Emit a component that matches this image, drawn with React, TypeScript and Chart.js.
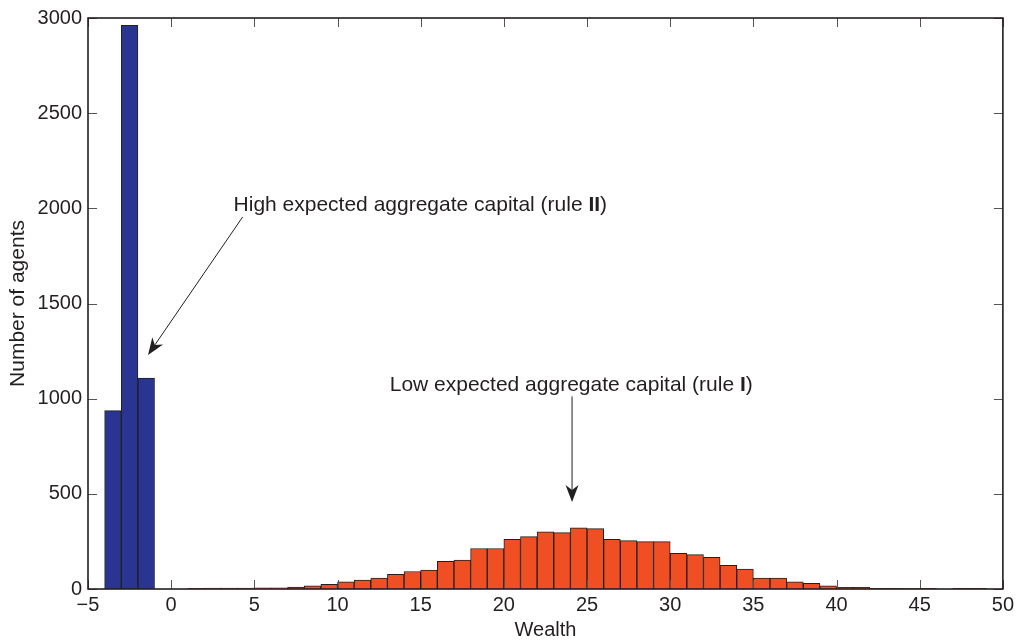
import React, { useEffect, useRef } from 'react';
import { Chart, registerables } from 'chart.js';

Chart.register(...registerables);

// Histogram of wealth: bin centres (bin width = 1) and counts
const blueBinCenters = [-3.5, -2.5, -1.5];
const blueCounts = [937, 2961, 1108];

const orangeBinCenters = [
  1.5, 2.5, 3.5, 4.5, 5.5, 6.5, 7.5, 8.5, 9.5, 10.5, 11.5, 12.5, 13.5, 14.5, 15.5, 16.5,
  17.5, 18.5, 19.5, 20.5, 21.5, 22.5, 23.5, 24.5, 25.5, 26.5, 27.5, 28.5, 29.5, 30.5, 31.5, 32.5,
  33.5, 34.5, 35.5, 36.5, 37.5, 38.5, 39.5, 40.5, 41.5, 42.5, 43.5, 44.5, 45.5, 46.5, 47.5, 48.5,
];
const orangeCounts = [
  4, 5, 5, 5, 6, 6, 10, 16, 24, 38, 47, 57, 77, 92, 99, 146,
  152, 213, 213, 261, 275, 301, 296, 322, 317, 261, 254, 249, 249, 188, 181, 167,
  125, 105, 57, 57, 38, 30, 17, 9, 9, 3, 3, 2, 3, 0, 3, 3,
];

const xTickValues = [-5, 0, 5, 10, 15, 20, 25, 30, 35, 40, 45, 50];
const yTickValues = [0, 500, 1000, 1500, 2000, 2500, 3000];

const xTitle = 'Wealth';
const yTitle = 'Number of agents';

const highLabelParts = [
  { text: 'High expected aggregate capital (rule ', bold: false },
  { text: 'II', bold: true },
  { text: ')', bold: false },
];
const lowLabelParts = [
  { text: 'Low expected aggregate capital (rule ', bold: false },
  { text: 'I', bold: true },
  { text: ')', bold: false },
];

// annotation anchors in data coordinates
const highLabelAt = { x: 3.75, y: 1985 };
const highArrowFrom = { x: 4.3, y: 1955 };
const highArrowTo = { x: -1.39, y: 1230 };
const lowLabelAt = { x: 24.05, y: 1041 };
const lowArrowFrom = { x: 24.1, y: 1012 };
const lowArrowTo = { x: 24.1, y: 457 };

const FONT = '"Liberation Sans", Arial, Helvetica, sans-serif';
const INK = '#231f20';
const ANNOT_SIZE = 21;

function drawArrow(ctx: CanvasRenderingContext2D, x1: number, y1: number, x2: number, y2: number) {
  const ang = Math.atan2(y2 - y1, x2 - x1);
  const L = 17;
  const W = 6.5;
  const notch = 5;
  ctx.beginPath();
  ctx.moveTo(x1, y1);
  ctx.lineTo(x2 - Math.cos(ang) * (L - notch), y2 - Math.sin(ang) * (L - notch));
  ctx.stroke();
  ctx.save();
  ctx.translate(x2, y2);
  ctx.rotate(ang);
  ctx.beginPath();
  ctx.moveTo(0, 0);
  ctx.lineTo(-L, W);
  ctx.lineTo(-L + notch, 0);
  ctx.lineTo(-L, -W);
  ctx.closePath();
  ctx.fill();
  ctx.restore();
}

function drawMixed(
  ctx: CanvasRenderingContext2D,
  parts: { text: string; bold: boolean }[],
  x: number,
  y: number,
  align: 'left' | 'center'
) {
  const widths = parts.map((p) => {
    ctx.font = `${p.bold ? 'bold ' : ''}${ANNOT_SIZE}px ${FONT}`;
    return ctx.measureText(p.text).width;
  });
  const total = widths.reduce((a, b) => a + b, 0);
  let cx = align === 'center' ? x - total / 2 : x;
  ctx.textAlign = 'left';
  ctx.textBaseline = 'alphabetic';
  parts.forEach((p, i) => {
    ctx.font = `${p.bold ? 'bold ' : ''}${ANNOT_SIZE}px ${FONT}`;
    ctx.fillText(p.text, cx, y);
    cx += widths[i];
  });
}

const framePlugin = {
  id: 'matlabFrame',
  afterDraw(chart: any) {
    const { ctx, chartArea: a } = chart;
    const xs = chart.scales.x;
    const ys = chart.scales.y;
    ctx.save();
    // ticks (inward, mirrored)
    ctx.strokeStyle = '#555';
    ctx.lineWidth = 1;
    const tl = 9;
    ctx.beginPath();
    xTickValues.forEach((v) => {
      const px = Math.round(xs.getPixelForValue(v)) + 0.5;
      ctx.moveTo(px, a.bottom);
      ctx.lineTo(px, a.bottom - tl);
      ctx.moveTo(px, a.top);
      ctx.lineTo(px, a.top + tl);
    });
    yTickValues.forEach((v) => {
      const py = Math.round(ys.getPixelForValue(v)) + 0.5;
      ctx.moveTo(a.left, py);
      ctx.lineTo(a.left + tl, py);
      ctx.moveTo(a.right, py);
      ctx.lineTo(a.right - tl, py);
    });
    ctx.stroke();
    // box
    ctx.strokeStyle = INK;
    ctx.lineWidth = 1.6;
    ctx.strokeRect(a.left, a.top, a.right - a.left, a.bottom - a.top);

    // annotations
    ctx.fillStyle = INK;
    ctx.strokeStyle = INK;
    ctx.lineWidth = 1;
    drawMixed(ctx, highLabelParts, xs.getPixelForValue(highLabelAt.x), ys.getPixelForValue(highLabelAt.y), 'left');
    drawMixed(ctx, lowLabelParts, xs.getPixelForValue(lowLabelAt.x), ys.getPixelForValue(lowLabelAt.y), 'center');
    drawArrow(
      ctx,
      xs.getPixelForValue(highArrowFrom.x),
      ys.getPixelForValue(highArrowFrom.y),
      xs.getPixelForValue(highArrowTo.x),
      ys.getPixelForValue(highArrowTo.y)
    );
    drawArrow(
      ctx,
      xs.getPixelForValue(lowArrowFrom.x),
      ys.getPixelForValue(lowArrowFrom.y),
      xs.getPixelForValue(lowArrowTo.x),
      ys.getPixelForValue(lowArrowTo.y)
    );
    ctx.restore();
  },
};

export default function App() {
  const canvasRef = useRef<HTMLCanvasElement | null>(null);

  useEffect(() => {
    if (!canvasRef.current) return;
    const chart = new Chart(canvasRef.current, {
      type: 'bar',
      data: {
        datasets: [
          {
            label: 'High',
            data: blueBinCenters.map((x, i) => ({ x, y: blueCounts[i] })),
            backgroundColor: '#2a3592',
            borderColor: INK,
            borderWidth: 1,
            barPercentage: 1,
            categoryPercentage: 1,
            grouped: false,
          },
          {
            label: 'Low',
            data: orangeBinCenters.map((x, i) => ({ x, y: orangeCounts[i] })),
            backgroundColor: '#f04f23',
            borderColor: INK,
            borderWidth: 1,
            barPercentage: 1,
            categoryPercentage: 1,
            grouped: false,
          },
        ] as any,
      },
      options: {
        animation: false,
        responsive: true,
        maintainAspectRatio: false,
        layout: { padding: { top: 15, right: 15, left: 0, bottom: 0 } },
        plugins: { legend: { display: false }, tooltip: { enabled: false } },
        scales: {
          x: {
            type: 'linear',
            min: -5,
            max: 50,
            offset: false,
            grid: { display: false, drawTicks: false },
            border: { display: false },
            afterBuildTicks: (s: any) => {
              s.ticks = xTickValues.map((v) => ({ value: v }));
            },
            afterFit: (s: any) => {
              s.height = 54;
            },
            ticks: {
              padding: 4,
              color: INK,
              font: { family: FONT, size: 20 },
              maxRotation: 0,
              autoSkip: false,
              callback: (v: any) => (Number(v) < 0 ? '\u2212' + Math.abs(Number(v)) : String(v)),
            },
            title: {
              display: true,
              text: xTitle,
              color: INK,
              font: { family: FONT, size: 20 },
              padding: { top: 0, bottom: 1 },
            },
          },
          y: {
            type: 'linear',
            min: 0,
            max: 3000,
            grid: { display: false, drawTicks: false },
            border: { display: false },
            afterBuildTicks: (s: any) => {
              s.ticks = yTickValues.map((v) => ({ value: v }));
            },
            afterFit: (s: any) => {
              s.width = 88;
            },
            ticks: {
              padding: 6,
              color: INK,
              font: { family: FONT, size: 20 },
              autoSkip: false,
              callback: (v: any) => String(v),
            },
            title: {
              display: true,
              text: yTitle,
              color: INK,
              font: { family: FONT, size: 21 },
              padding: { top: 6, bottom: 0 },
            },
          },
        },
      },
      plugins: [framePlugin],
    });
    return () => chart.destroy();
  }, []);

  return (
    <div style={{ position: 'fixed', left: 0, top: 0, width: 1018, height: 643, background: '#fff' }}>
      <canvas ref={canvasRef} />
    </div>
  );
}
